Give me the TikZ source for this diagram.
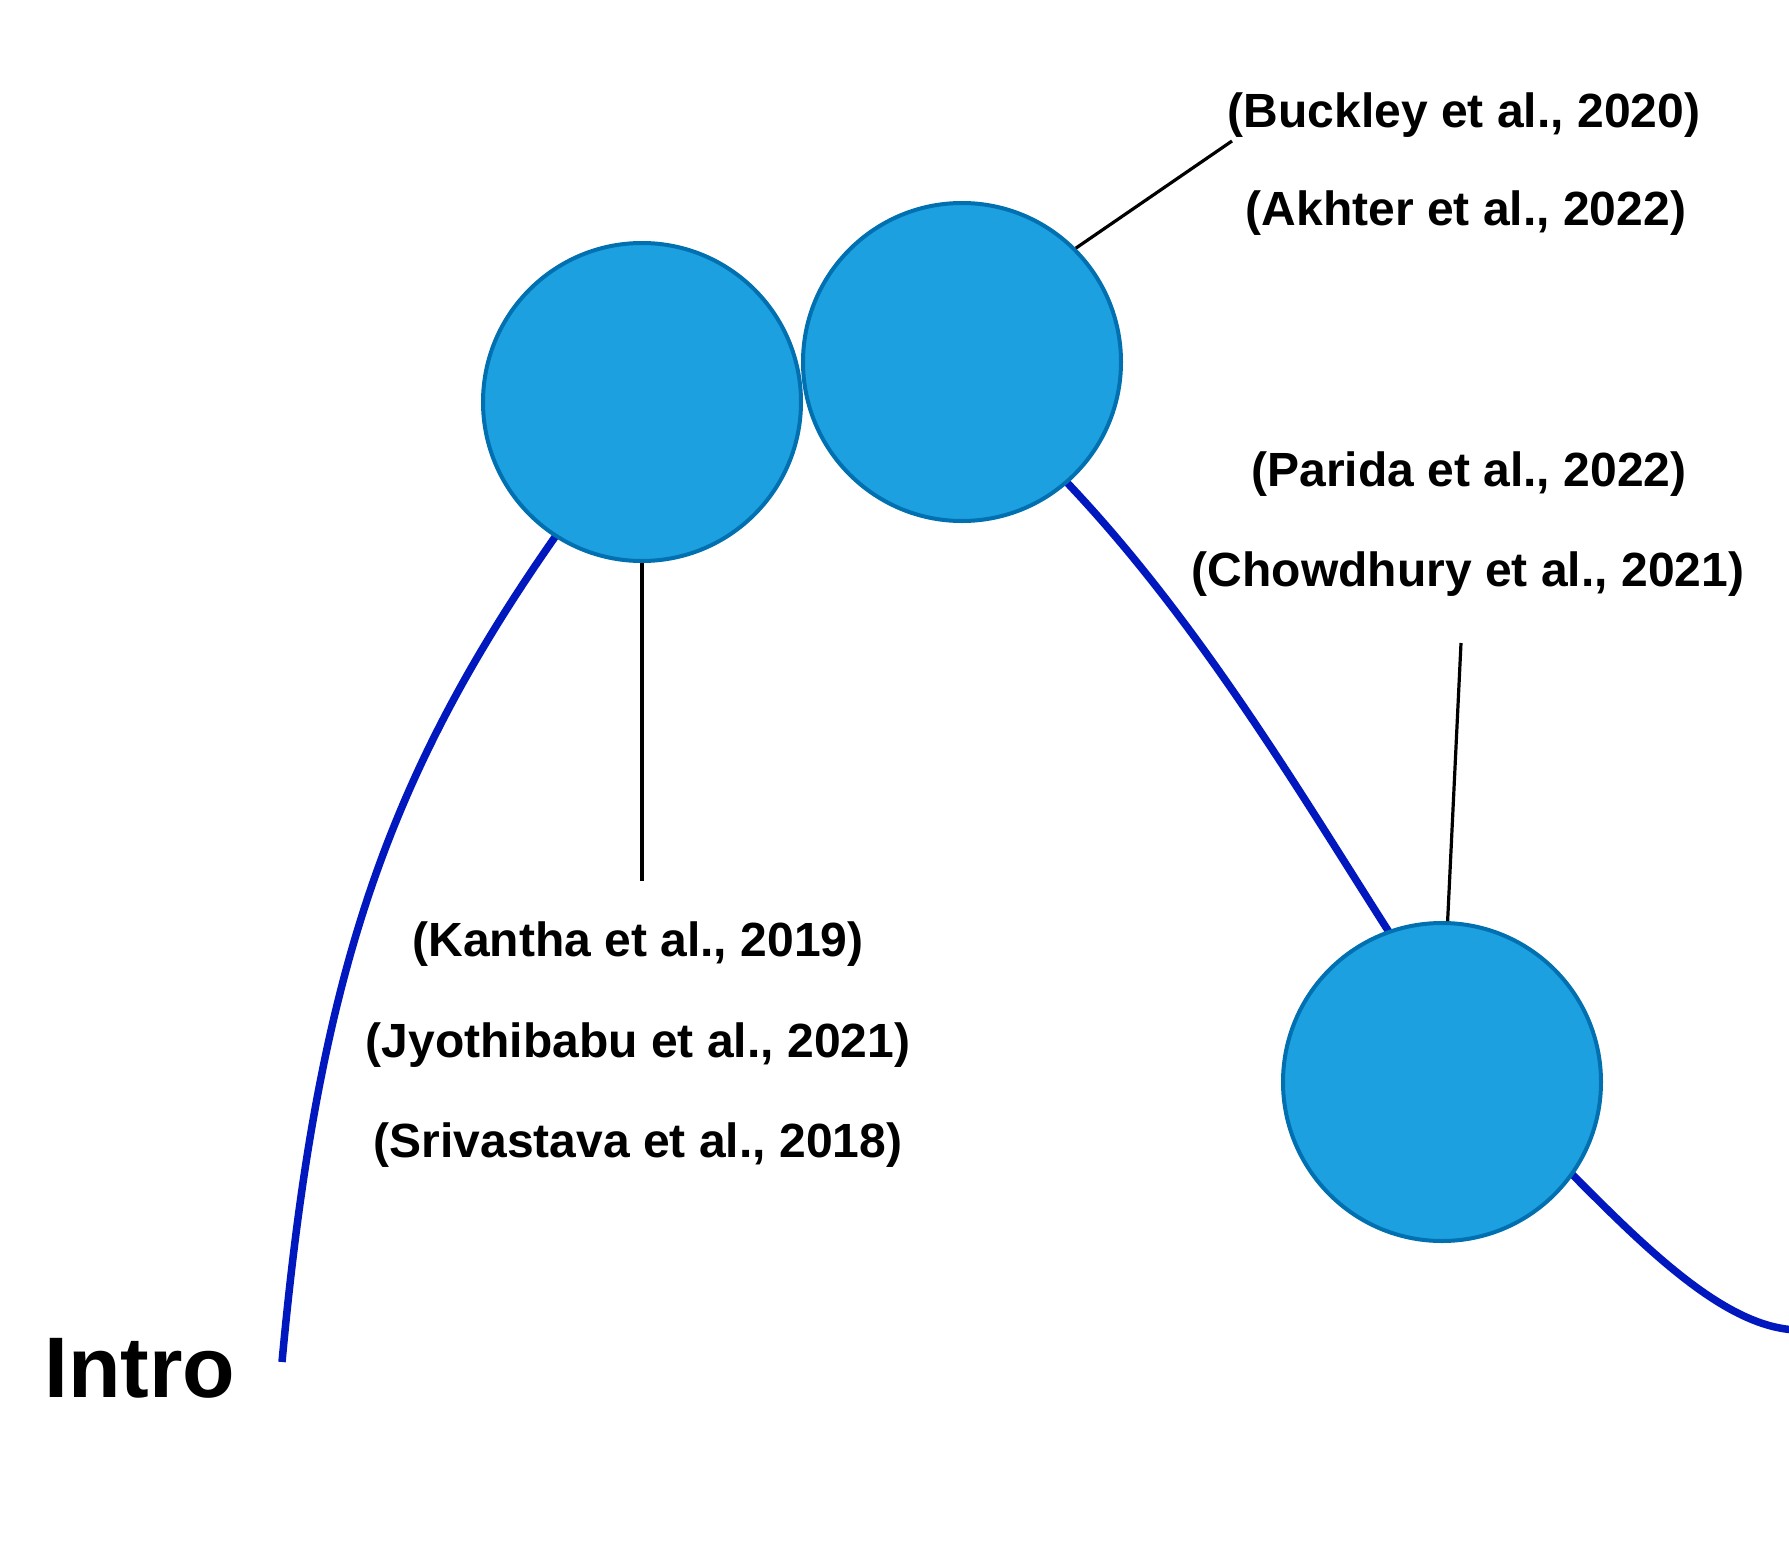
\documentclass[tikz,border=0pt]{standalone}
\usepackage{fontspec}
\setmainfont{Liberation Sans}
\definecolor{cfill}{HTML}{1CA0E0}
\definecolor{cdraw}{HTML}{0070B0}
\definecolor{curveblue}{HTML}{0018BE}
\begin{document}
\begin{tikzpicture}[x=1pt,y=-1pt,
  bubble/.style={circle, fill=cfill, draw=cdraw, line width=4pt, minimum size=318pt, inner sep=0pt},
  cite/.style={font=\fontsize{48}{58}\selectfont\bfseries, inner sep=0pt, anchor=base},
  trail/.style={draw=curveblue, line width=7.5pt},
  lead/.style={draw=black, line width=3.2pt}]
\useasboundingbox[fill=white] (0,0) rectangle (1789,1558);

% blue trail (behind the bubbles)
\coordinate (start) at (282,1362);
\coordinate (e1) at (555,537);
\coordinate (in1) at (585,494);
\coordinate (out2) at (1040,455);
\coordinate (in3) at (1409,963);
\coordinate (out3) at (1545,1147);
\coordinate (rend) at (1800,1330);
\draw[trail] (start) .. controls (317,983.5) and (383,782.7) .. (e1) -- (in1);
\draw[trail] (out2) .. controls (1196,609) and (1310.5,812) .. (in3);
\draw[trail] (out3) .. controls (1630,1232) and (1720,1330) .. (rend);

% bubbles
\node[bubble] (c1) at (642,402) {};
\node[bubble] (c2) at (962,362) {};
\node[bubble] (c3) at (1442,1082) {};

% leader lines
\coordinate (k1) at (642,881);
\coordinate (k2) at (1232,141);
\coordinate (k3) at (1461,643);
\draw[lead] (c1.south) -- (k1);
\draw[lead] (c2.45) -- (k2);
\draw[lead] (c3.88) -- (k3);

% labels
\node[cite] (buckley) at (1464,127) {(Buckley et al., 2020)};
\node[cite] (akhter) at (1466,225) {(Akhter et al., 2022)};
\node[cite] (parida) at (1469,486) {(Parida et al., 2022)};
\node[cite] (chow) at (1468,586) {(Chowdhury et al., 2021)};
\node[cite] (kantha) at (638,956) {(Kantha et al., 2019)};
\node[cite] (jyothi) at (638,1057) {(Jyothibabu et al., 2021)};
\node[cite] (sriv) at (638,1157) {(Srivastava et al., 2018)};
\node[font=\fontsize{86}{100}\selectfont\bfseries, inner sep=0pt, anchor=base west] (intro) at (44,1397) {Intro};
\end{tikzpicture}
\end{document}
